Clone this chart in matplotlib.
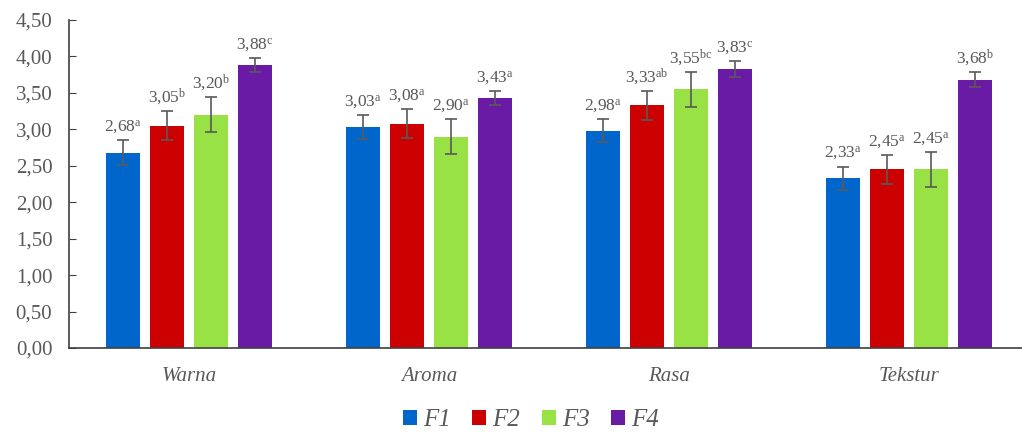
"""
Grouped bar chart - sensory scores (Warna, Aroma, Rasa, Tekstur) for F1..F4
"""
import matplotlib
matplotlib.use('Agg')
import matplotlib.pyplot as plt
from matplotlib.patches import Patch
import numpy as np

# Data
categories = ['Warna', 'Aroma', 'Rasa', 'Tekstur']
formulas = ['F1', 'F2', 'F3', 'F4']
means = {
    'F1': [2.68, 3.03, 2.98, 2.33],
    'F2': [3.05, 3.08, 3.33, 2.45],
    'F3': [3.20, 2.90, 3.55, 2.45],
    'F4': [3.88, 3.43, 3.83, 3.68],
}
errors = {
    'F1': [0.17, 0.16, 0.16, 0.16],
    'F2': [0.20, 0.20, 0.20, 0.20],
    'F3': [0.24, 0.24, 0.24, 0.24],
    'F4': [0.10, 0.10, 0.11, 0.10],
}
letters = {
    'F1': ['a', 'a', 'a', 'a'],
    'F2': ['b', 'a', 'ab', 'a'],
    'F3': ['b', 'a', 'bc', 'a'],
    'F4': ['c', 'a', 'c', 'b'],
}
y_ticks = [0, 0.5, 1.0, 1.5, 2.0, 2.5, 3.0, 3.5, 4.0, 4.5]

colors = {'F1': '#0066CC', 'F2': '#CC0000', 'F3': '#99E245', 'F4': '#6A1BA6'}
text_color = '#595959'

plt.rcParams['font.family'] = ['Liberation Serif', 'DejaVu Serif']

fig = plt.figure(figsize=(10.22, 4.32), dpi=100, facecolor='white')
ax = fig.add_axes([69 / 1022, 84 / 432, 953 / 1022, 328 / 432])

x = np.arange(len(categories))
width = 0.142
step = 0.183

for i, f in enumerate(formulas):
    pos = x + (i - 1.5) * step
    ax.bar(pos, means[f], width, color=colors[f], zorder=2)
    ax.errorbar(pos, means[f], yerr=errors[f], fmt='none', ecolor=text_color,
                elinewidth=1.2, capsize=4, capthick=1.2, zorder=3)
    for p, m, e, l in zip(pos, means[f], errors[f], letters[f]):
        txt = f'{m:.2f}'.replace('.', '{,}')
        ax.annotate(rf'$\mathregular{{{txt}^{{{l}}}}}$', (p, m + e),
                    xytext=(0, 3), textcoords='offset points',
                    ha='center', va='bottom', fontsize=12.5, color=text_color)

ax.set_xlim(-0.5, -0.5 + 953 / 240)
ax.set_ylim(0, 4.5)
ax.set_yticks(y_ticks)
ax.set_yticklabels([f'{v:.2f}'.replace('.', ',') for v in y_ticks],
                   fontsize=15, color=text_color)
ax.set_xticks(x)
ax.set_xticklabels(categories, fontsize=15, style='italic', color=text_color)
ax.tick_params(axis='x', length=0, pad=14)
ax.tick_params(axis='y', direction='in', length=5, color='#404040', pad=12)

for s in ['top', 'right']:
    ax.spines[s].set_visible(False)
for s in ['left', 'bottom']:
    ax.spines[s].set_color('#404040')
    ax.spines[s].set_linewidth(1.2)

handles = [Patch(facecolor=colors[f], label=f) for f in formulas]
leg = fig.legend(handles=handles, loc='center', bbox_to_anchor=(531 / 1022, 12 / 432),
                 ncol=4, frameon=False, handlelength=0.56, handleheight=0.56,
                 handletextpad=0.25, columnspacing=0.85, borderpad=0.1,
                 prop={'style': 'italic', 'size': 18})
for t in leg.get_texts():
    t.set_color(text_color)

fig.savefig('out.png', dpi=100, facecolor='white')
